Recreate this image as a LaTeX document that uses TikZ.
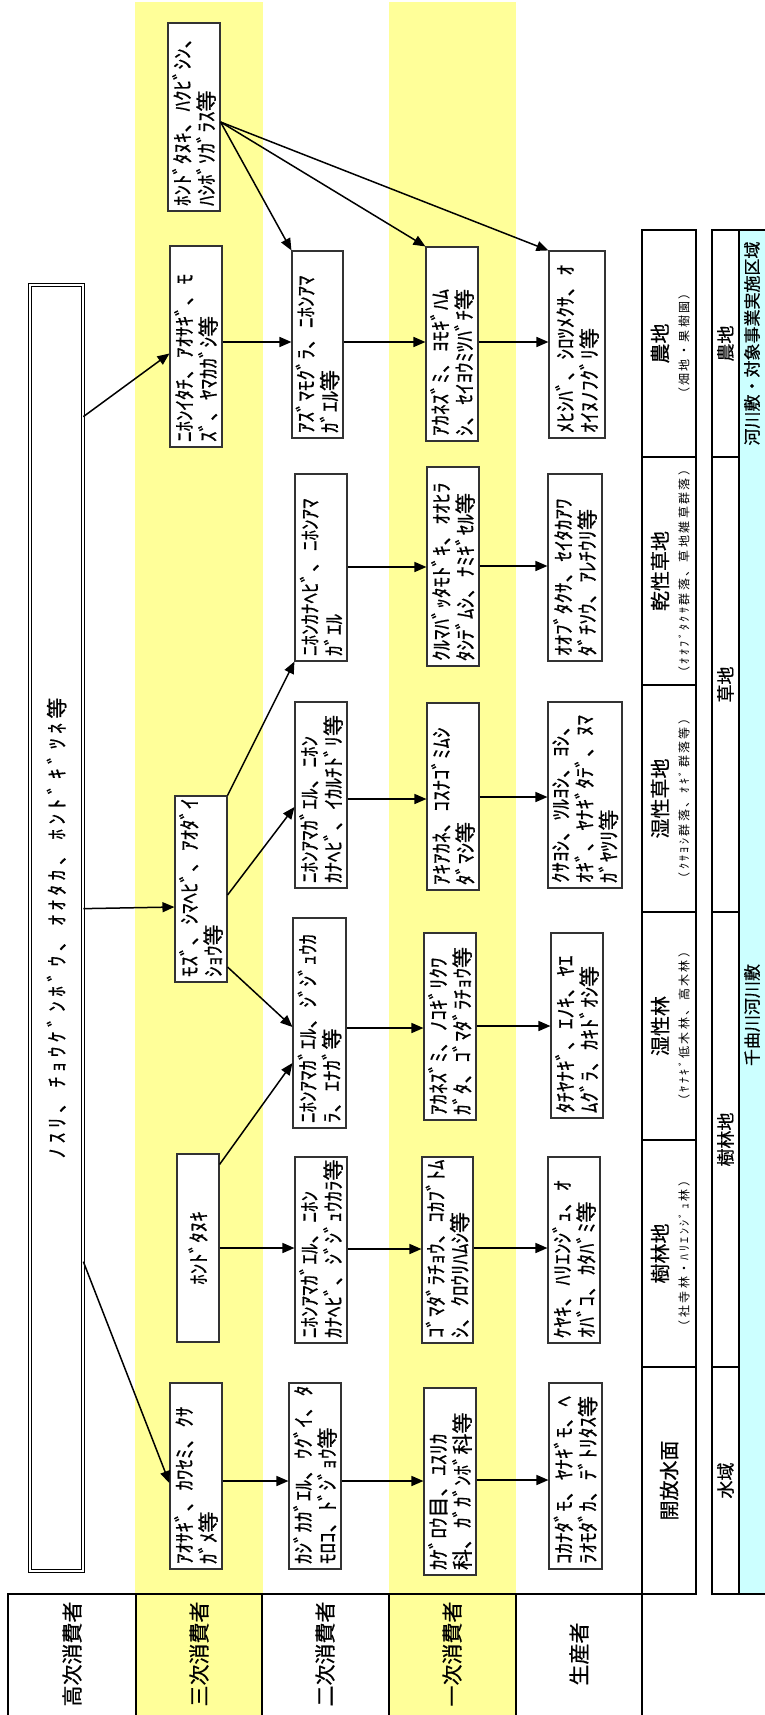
\documentclass[tikz,border=0pt]{standalone}
\usepackage{graphicx}
\usepackage{fontspec}
\setmainfont{Noto Sans CJK JP}
\newfontfamily\jpheavy[FakeBold=0.6]{Noto Sans CJK JP}
\newfontfamily\jpspaced[LetterSpace=20]{Noto Sans CJK JP}
\newfontfamily\jpwide[LetterSpace=22,FakeBold=0.6]{Noto Sans CJK JP}
\usetikzlibrary{arrows.meta,calc}
\definecolor{ylw}{HTML}{FFFF99}
\definecolor{cyn}{HTML}{CCFFFF}
\newcommand{\fwbox}[6]{\node[box, minimum width=#4pt, minimum height=#5pt] (#1) at (#2,#3) {\rotatebox{90}{\parbox{\dimexpr#5pt-10pt\relax}{\raggedright #6}}};}
\begin{document}
\begin{tikzpicture}[x=1pt,y=-1pt,
  box/.style={draw=black!80, line width=1.1pt, fill=white, inner sep=0pt, font=\jpheavy\fontsize{21}{24}\selectfont},
  arr/.style={draw=black, line width=1.5pt, -{Triangle[length=12pt,width=10pt]}},
  tline/.style={draw=black, line width=2.5pt},
  hdr/.style={rotate=90, inner sep=0pt, font=\jpheavy\fontsize{21}{24}\selectfont},
  tbig/.style={rotate=90, inner sep=0pt, font=\jpheavy\fontsize{20}{22}\selectfont},
  tsmall/.style={rotate=90, inner sep=0pt, font=\jpspaced\fontsize{12}{14}\selectfont},
  tlab/.style={rotate=90, inner sep=0pt, font=\jpheavy\fontsize{18}{20}\selectfont},
  tcyan/.style={rotate=90, inner sep=0pt, font=\jpheavy\fontsize{17}{19}\selectfont}]
\useasboundingbox (0,0) rectangle (765,1715);
% yellow bands
\fill[ylw] (135,2) rectangle (263,1715);
\fill[ylw] (389,2) rectangle (516,1715);
% habitat tables
\fill[cyn] (739,230) rectangle (765,1594);
\draw[tline] (642,230) rectangle (696,1594);
\foreach \yy in {457,685,912,1140,1367} \draw[tline] (642,\yy) -- (697,\yy);
\draw[tline] (765,230) -- (712,230) -- (712,1594) -- (765,1594);
\draw[tline] (739,230) -- (739,1594);
\foreach \yy in {457,912,1367} \draw[tline] (712,\yy) -- (739,\yy);
% header row
\draw[tline] (8,1715) -- (8,1594) -- (697,1594);
\foreach \xx in {136,262,389,516,642} \draw[tline] (\xx,1594) -- (\xx,1715);
\node[hdr] (h1) at (72,1654) {高次消費者};
\node[hdr] (h2) at (199,1654) {三次消費者};
\node[hdr] (h3) at (325,1654) {二次消費者};
\node[hdr] (h4) at (452,1654) {一次消費者};
\node[hdr] (h5) at (579,1654) {生産者};
% habitat labels
\node[tbig] (c1) at (660,343.5) {農地};
\node[tsmall] (c1s) at (684,343.5) {（畑地・果樹園）};
\node[tbig] (c2) at (660,571) {乾性草地};
\node[tsmall] (c2s) at (684,571) {（ｵｵﾌﾞﾀｸｻ群落、草地雑草群落）};
\node[tbig] (c3) at (660,798.5) {湿性草地};
\node[tsmall] (c3s) at (684,798.5) {（ｸｻﾖｼ群落、ｵｷﾞ群落等）};
\node[tbig] (c4) at (660,1026) {湿性林};
\node[tsmall] (c4s) at (684,1026) {（ﾔﾅｷﾞ低木林、高木林）};
\node[tbig] (c5) at (660,1253.5) {樹林地};
\node[tsmall] (c5s) at (684,1253.5) {（社寺林・ﾊﾘｴﾝｼﾞｭ林）};
\node[tbig] (c6) at (669,1480.5) {開放水面};
\node[tlab] (d1) at (725.5,343.5) {農地};
\node[tlab] (d2) at (725.5,684.5) {草地};
\node[tlab] (d3) at (725.5,1139.5) {樹林地};
\node[tlab] (d4) at (725.5,1480.5) {水域};
\node[tcyan] (e1) at (752,343.5) {河川敷・対象事業実施区域};
\node[tcyan] (e2) at (752,1015) {千曲川河川敷};
% top predators
\node[draw=black, double, double distance=2.2pt, line width=1.1pt, minimum width=52.6pt, minimum height=1285.6pt, inner sep=0pt, font=\jpwide\fontsize{21}{24}\selectfont] (big) at (56.5,928) {\rotatebox{90}{ﾉｽﾘ、ﾁｮｳｹﾞﾝﾎﾞｳ、ｵｵﾀｶ、ﾎﾝﾄﾞｷﾞﾂﾈ等}};
% tertiary consumers
\fwbox{T1}{194}{117}{52}{188}{ﾎﾝﾄﾞﾀﾇｷ、ﾊｸﾋﾞｼﾝ、\\ﾊｼﾎﾞｿｶﾞﾗｽ等}
\fwbox{T2}{196}{346.5}{52}{201}{ﾆﾎﾝｲﾀﾁ、ｱｵｻｷﾞ、ﾓ\\ｽﾞ、ﾔﾏｶｶﾞｼ等}
\fwbox{T3}{201}{889}{52}{186}{ﾓｽﾞ、ｼﾏﾍﾋﾞ、ｱｵﾀﾞｲ\\ｼｮｳ等}
\node[box, minimum width=42pt, minimum height=188pt] (T4) at (198,1248) {\rotatebox{90}{ﾎﾝﾄﾞﾀﾇｷ}};
\fwbox{T5}{196}{1476}{52}{186}{ｱｵｻｷﾞ、ｶﾜｾﾐ、ｸｻ\\ｶﾞﾒ等}
% secondary consumers
\fwbox{S1}{317.5}{344.5}{51}{187}{ｱｽﾞﾏﾓｸﾞﾗ、ﾆﾎﾝｱﾏ\\ｶﾞｴﾙ等}
\fwbox{S2}{321}{567.5}{52}{187}{ﾆﾎﾝｶﾅﾍﾋﾞ、ﾆﾎﾝｱﾏ\\ｶﾞｴﾙ}
\fwbox{S3}{321}{795}{52}{186}{ﾆﾎﾝｱﾏｶﾞｴﾙ、ﾆﾎﾝ\\ｶﾅﾍﾋﾞ、ｲｶﾙﾁﾄﾞﾘ等}
\fwbox{S4}{319.5}{1023}{53}{210}{ﾆﾎﾝｱﾏｶﾞｴﾙ、ｼﾞｼﾞｭｳｶ\\ﾗ、ｴﾅｶﾞ等}
\fwbox{S5}{321}{1250}{52}{186}{ﾆﾎﾝｱﾏｶﾞｴﾙ、ﾆﾎﾝ\\ｶﾅﾍﾋﾞ、ｼﾞｼﾞｭｳｶﾗ等}
\fwbox{S6}{315}{1476}{52}{186}{ｶｼﾞｶｶﾞｴﾙ、ｳｸﾞｲ、ﾀ\\ﾓﾛｺ、ﾄﾞｼﾞｮｳ等}
% primary consumers
\fwbox{P1}{452}{344}{52}{194}{ｱｶﾈｽﾞﾐ、ﾖﾓｷﾞﾊﾑ\\ｼ、ｾｲﾖｳﾐﾂﾊﾞﾁ等}
\fwbox{P2}{453}{566.5}{52}{199}{ｸﾙﾏﾊﾞｯﾀﾓﾄﾞｷ、ｵｵﾋﾗ\\ﾀｼﾃﾞﾑｼ、ﾅﾐｷﾞｾﾙ等}
\fwbox{P3}{453}{796.5}{52}{187}{ｱｷｱｶﾈ、ｺｽﾅｺﾞﾐﾑｼ\\ﾀﾞﾏｼ等}
\fwbox{P4}{450}{1026.5}{52}{187}{ｱｶﾈｽﾞﾐ、ﾉｺｷﾞﾘｸﾜ\\ｶﾞﾀ、ｺﾞﾏﾀﾞﾗﾁｮｳ等}
\fwbox{P5}{447.5}{1250}{51}{186}{ｺﾞﾏﾀﾞﾗﾁｮｳ、ｺｶﾌﾞﾄﾑ\\ｼ、ｸﾛｳﾘﾊﾑｼ等}
\fwbox{P6}{450}{1481.5}{52}{187}{ｶｹﾞﾛｳ目、ﾕｽﾘｶ\\科、ｶﾞｶﾞﾝﾎﾞ科等}
% producers
\fwbox{R1}{577}{344.5}{56}{187}{ﾒﾋｼﾊﾞ、ｼﾛﾂﾒｸｻ、ｵ\\ｵｲﾇﾉﾌｸﾞﾘ等}
\fwbox{R2}{575}{567.5}{54}{187}{ｵｵﾌﾞﾀｸｻ、ｾｲﾀｶｱﾜ\\ﾀﾞﾁｿｳ、ｱﾚﾁｳﾘ等}
\fwbox{R3}{585}{795}{74}{186}{ｸｻﾖｼ、ﾂﾙﾖｼ、ﾖｼ、\\ｵｷﾞ、ﾔﾅｷﾞﾀﾃﾞ、ﾇﾏ\\ｶﾞﾔﾂﾘ等}
\fwbox{R4}{577}{1025.5}{52}{185}{ﾀﾁﾔﾅｷﾞ、ｴﾉｷ、ﾔｴ\\ﾑｸﾞﾗ、ｶｷﾄﾞｵｼ等}
\fwbox{R5}{574}{1250}{52}{186}{ｹﾔｷ、ﾊﾘｴﾝｼﾞｭ、ｵ\\ｵﾊﾞｺ、ｶﾀﾊﾞﾐ等}
\fwbox{R6}{575.5}{1476}{53}{186}{ｺｶﾅﾀﾞﾓ、ﾔﾅｷﾞﾓ、ﾍ\\ﾗｵﾓﾀﾞｶ、ﾃﾞﾄﾘﾀｽ等}
% arrows from top predators
\draw[arr] ($(big.north east)+(0,132)$) -- ($(T2.west)+(0,7)$);
\draw[arr] ($(big.north east)+(0,624)$) -- ($(T3.west)+(0,18)$);
\draw[arr] ($(big.north east)+(0,977)$) -- ($(T5.west)+(0,7)$);
% arrows from T1
\draw[arr] ($(T1.east)+(0,5)$) -- (S1.north west);
\draw[arr] ($(T1.east)+(0,5)$) -- (P1.north west);
\draw[arr] ($(T1.east)+(0,5)$) -- (R1.north west);
% arrows from T3, T4
\draw[arr] (T3.north east) -- (S2.south west);
\draw[arr] ($(T3.east)+(0,6)$) -- ($(S3.west)+(0,12)$);
\draw[arr] ($(T3.east)+(0,78)$) -- ($(S4.west)+(0,4)$);
\draw[arr] ($(T4.north east)+(0,11)$) -- ($(S4.west)+(0,40)$);
% horizontal arrows
\draw[arr] (T2.east |- 0,342) -- (S1.west |- 0,342);
\draw[arr] (S1.east |- 0,342) -- (P1.west |- 0,342);
\draw[arr] (P1.east |- 0,342) -- (R1.west |- 0,342);
\draw[arr] (S2.east |- 0,567) -- (P2.west |- 0,567);
\draw[arr] (P2.east |- 0,566) -- (R2.west |- 0,566);
\draw[arr] (S3.east |- 0,799) -- (P3.west |- 0,799);
\draw[arr] (P3.east |- 0,797) -- (R3.west |- 0,797);
\draw[arr] (S4.east |- 0,1028) -- (P4.west |- 0,1028);
\draw[arr] (P4.east |- 0,1026) -- (R4.west |- 0,1026);
\draw[arr] (T4.east |- 0,1248) -- (S5.west |- 0,1248);
\draw[arr] (S5.east |- 0,1249) -- (P5.west |- 0,1249);
\draw[arr] (P5.east |- 0,1248) -- (R5.west |- 0,1248);
\draw[arr] (T5.east |- 0,1481) -- (S6.west |- 0,1481);
\draw[arr] (S6.east |- 0,1481) -- (P6.west |- 0,1481);
\draw[arr] (P6.east |- 0,1480) -- (R6.west |- 0,1480);
\end{tikzpicture}
\end{document}
